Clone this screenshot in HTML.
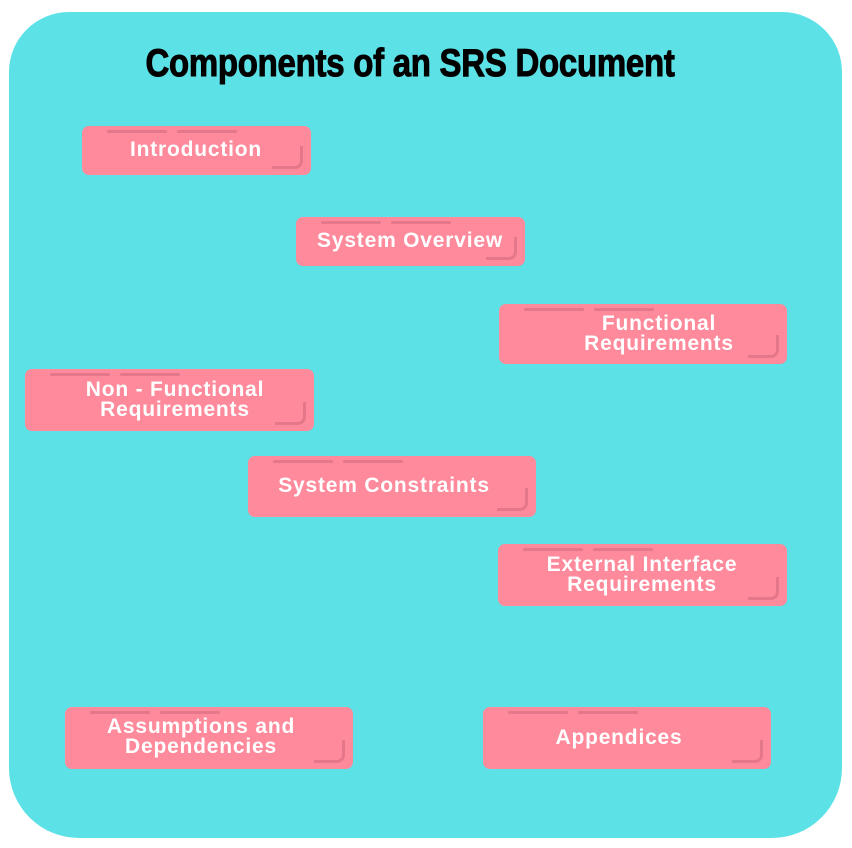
<!DOCTYPE html>
<html><head><meta charset="utf-8"><style>
body{margin:0;width:852px;height:848px;background:#fff;position:relative;overflow:hidden;font-family:"Liberation Sans",sans-serif}
.bg{position:absolute;left:9px;top:12px;width:833px;height:826px;background:#5ce1e6;border-radius:60px 60px 70px 70px}
.title{position:absolute;left:0;width:820px;top:42px;text-align:center;font-weight:bold;font-size:39px;color:#000;transform:scaleX(0.845);transform-origin:410px 0;letter-spacing:-0.3px;-webkit-text-stroke:1px #000}
.b{position:absolute;background:#fe8a9b;border-radius:7px}
.b:before{content:"";position:absolute;left:25px;top:4px;width:60px;height:3px;border-radius:2px;background:#e5778a;box-shadow:70px 0 0 -0px #e5778a}
.b:after{content:"";position:absolute;right:8px;bottom:6px;width:28px;height:20px;border-right:3px solid #e5778a;border-bottom:3px solid #e5778a;border-radius:0 0 8px 0}
.t{position:absolute;color:#fff;font-weight:bold;font-size:21px;line-height:20px;letter-spacing:0.8px;text-align:center;white-space:nowrap;transform:translateX(-50%)}
</style></head><body>
<div class="bg"></div>
<div class="title">Components of an SRS Document</div>
<div class="b" style="left:82px;top:126px;width:229px;height:49px"></div>
<div class="b" style="left:296px;top:217px;width:229px;height:49px"></div>
<div class="b" style="left:499px;top:304px;width:288px;height:60px"></div>
<div class="b" style="left:25px;top:369px;width:289px;height:62px"></div>
<div class="b" style="left:248px;top:456px;width:288px;height:61px"></div>
<div class="b" style="left:498px;top:544px;width:289px;height:62px"></div>
<div class="b" style="left:65px;top:707px;width:288px;height:62px"></div>
<div class="b" style="left:483px;top:707px;width:288px;height:62px"></div>
<div class="t" style="left:196px;top:140px">Introduction</div>
<div class="t" style="left:410px;top:231px">System Overview</div>
<div class="t" style="left:659px;top:314px">Functional<br>Requirements</div>
<div class="t" style="left:175px;top:380px">Non - Functional<br>Requirements</div>
<div class="t" style="left:384px;top:476px">System Constraints</div>
<div class="t" style="left:642px;top:555px">External Interface<br>Requirements</div>
<div class="t" style="left:201px;top:717px">Assumptions and<br>Dependencies</div>
<div class="t" style="left:619px;top:728px">Appendices</div>
</body></html>
